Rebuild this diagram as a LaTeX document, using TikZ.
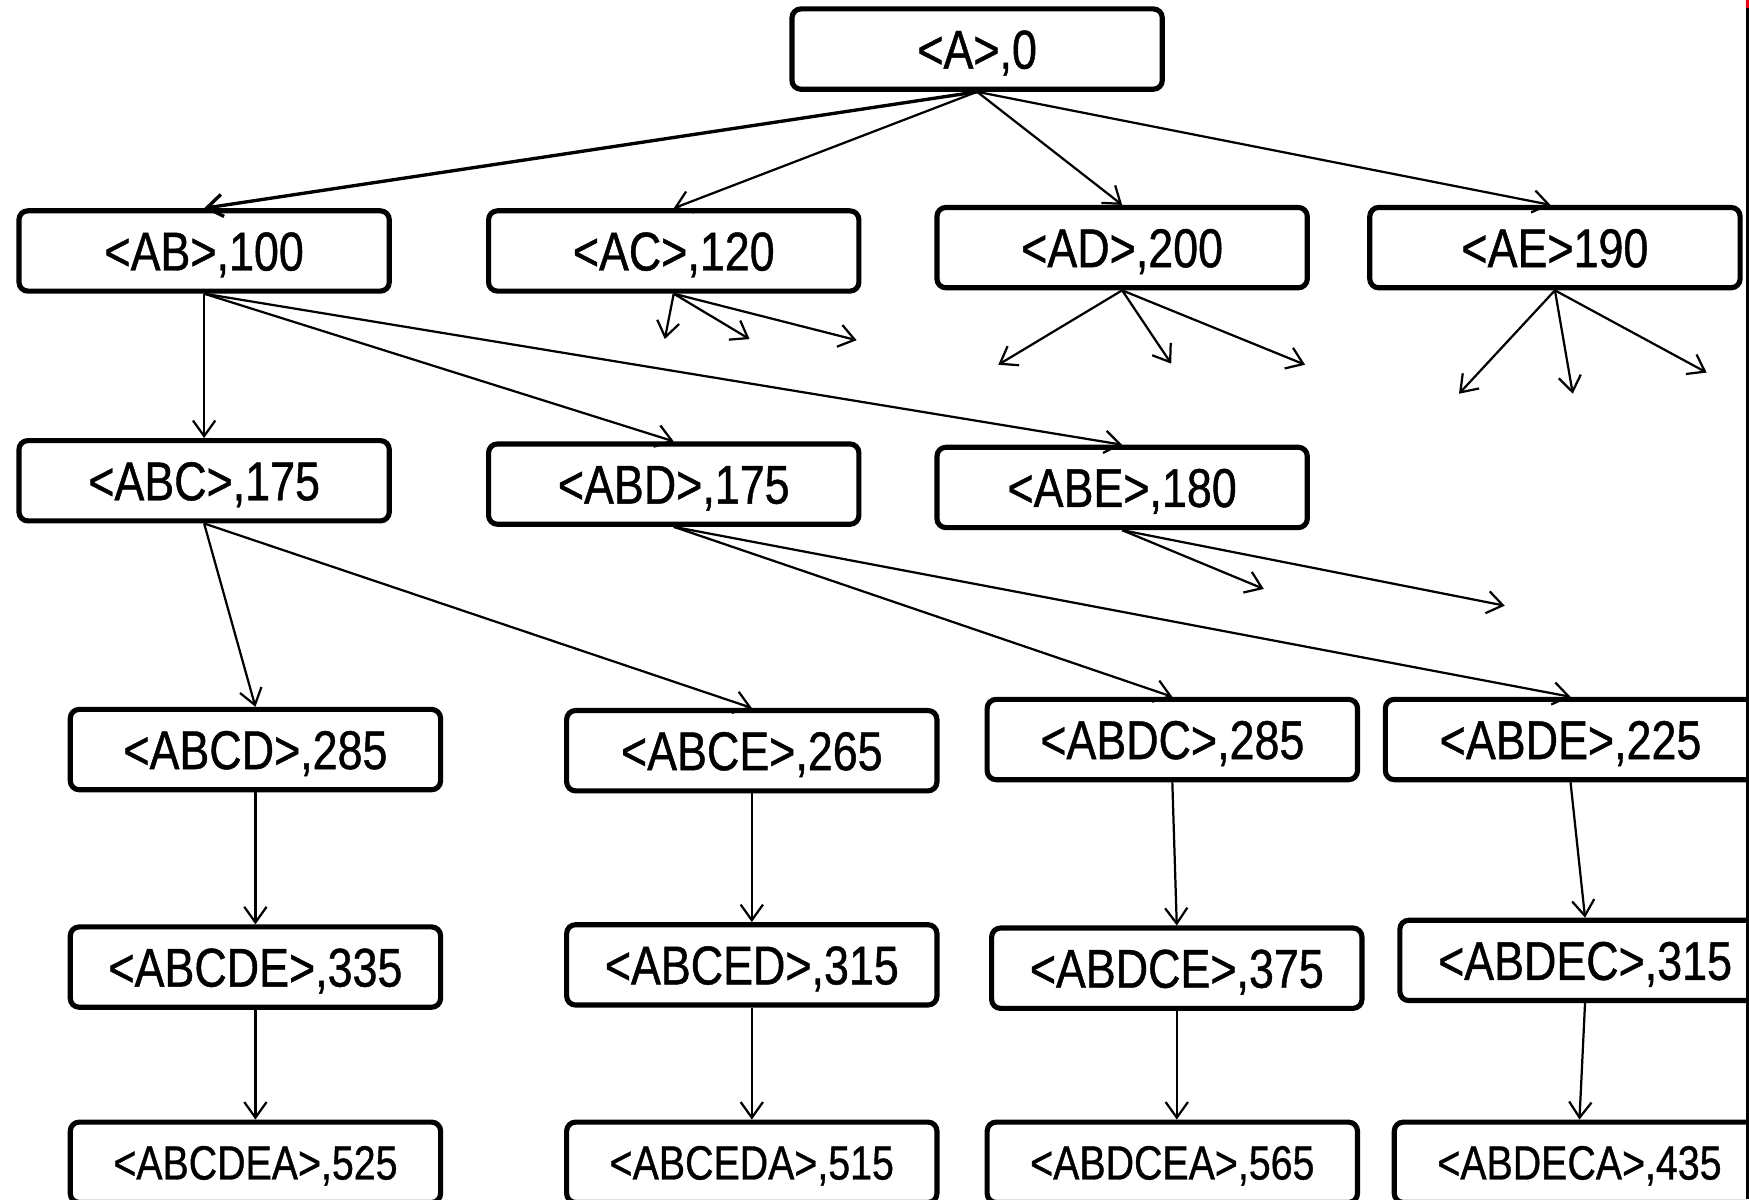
\documentclass[tikz,border=0pt]{standalone}
\usepackage{fontspec}
\setmainfont{Liberation Sans}[FakeStretch=0.82,FakeBold=0.8]
\usetikzlibrary{arrows.meta}
\begin{document}
\begin{tikzpicture}[x=0.5pt,y=-0.5pt,
  box/.style={draw, line width=2.3pt, rounded corners=4pt, minimum width=166pt,
    minimum height=36pt, inner sep=0pt, font=\fontsize{24.5}{24.5}\selectfont,
    text height=17.5pt, text depth=0pt},
  lastbox/.style={box, font=\fontsize{21.5}{21.5}\selectfont, text height=15.4pt},
  edge/.style={line width=1pt, -{Straight Barb[length=7pt,width=10pt]}},
  thickedge/.style={edge, line width=1.5pt}
]
\useasboundingbox (0,0) rectangle (1568,1075);
\begin{scope}
\clip (0,-5) rectangle (1566,1080);
% row 1
\node[box] (A) at (876,44) {<A>,0};
% row 2
\node[box] (AB) at (183,225) {<AB>,100};
\node[box] (AC) at (604,225) {<AC>,120};
\node[box] (AD) at (1006,222) {<AD>,200};
\node[box] (AE) at (1394,222) {<AE>190};
% row 3
\node[box] (ABC) at (183,431) {<ABC>,175};
\node[box] (ABD) at (604,434) {<ABD>,175};
\node[box] (ABE) at (1006,437) {<ABE>,180};
% row 4
\node[box] (ABCD) at (229,672) {<ABCD>,285};
\node[box] (ABCE) at (674,673) {<ABCE>,265};
\node[box] (ABDC) at (1051,663) {<ABDC>,285};
\node[box] (ABDE) at (1408,663) {<ABDE>,225};
% row 5
\node[box] (ABCDE) at (229,867) {<ABCDE>,335};
\node[box] (ABCED) at (674,865) {<ABCED>,315};
\node[box] (ABDCE) at (1055,868) {<ABDCE>,375};
\node[box] (ABDEC) at (1421,861) {<ABDEC>,315};
% row 6
\node[lastbox] (ABCDEA) at (229,1042) {<ABCDEA>,525};
\node[lastbox] (ABCEDA) at (674,1042) {<ABCEDA>,515};
\node[lastbox] (ABDCEA) at (1051,1042) {<ABDCEA>,565};
\node[lastbox] (ABDECA) at (1416,1042) {<ABDECA>,435};

% free ends
\coordinate (ac1) at (596,304);
\coordinate (ac2) at (672,304);
\coordinate (ac3) at (768,305);
\coordinate (ad1) at (895,327);
\coordinate (ad2) at (1050,326);
\coordinate (ad3) at (1170,327);
\coordinate (ae1) at (1308,353);
\coordinate (ae2) at (1410,353);
\coordinate (ae3) at (1530,334);
\coordinate (abe1) at (1133,528);
\coordinate (abe2) at (1349,543);

% edges from A
\draw[thickedge] (A.south) -- (AB.north);
\draw[edge] (A.south) -- (AC.north);
\draw[edge] (A.south) -- (AD.north);
\draw[edge] (A.south) -- ([xshift=-2pt]AE.north);
% edges from AB
\draw[edge] (AB.south) -- (ABC.north);
\draw[edge] (AB.south) -- (ABD.north);
\draw[edge] (AB.south) -- (ABE.north);
% stubs
\draw[edge] (AC.south) -- (ac1);
\draw[edge] (AC.south) -- (ac2);
\draw[edge] (AC.south) -- (ac3);
\draw[edge] (AD.south) -- (ad1);
\draw[edge] (AD.south) -- (ad2);
\draw[edge] (AD.south) -- (ad3);
\draw[edge] (AE.south) -- (ae1);
\draw[edge] (AE.south) -- (ae2);
\draw[edge] (AE.south) -- (ae3);
\draw[edge] (ABE.south) -- (abe1);
\draw[edge] (ABE.south) -- (abe2);
% row 3 to row 4
\draw[edge] (ABC.south) -- (ABCD.north);
\draw[edge] (ABC.south) -- (ABCE.north);
\draw[edge] (ABD.south) -- (ABDC.north);
\draw[edge] (ABD.south) -- (ABDE.north);
% chains
\draw[edge] (ABCD.south) -- (ABCDE.north);
\draw[edge] (ABCDE.south) -- (ABCDEA.north);
\draw[edge] (ABCE.south) -- (ABCED.north);
\draw[edge] (ABCED.south) -- (ABCEDA.north);
\draw[edge] (ABDC.south) -- (ABDCE.north);
\draw[edge] (ABDCE.south) -- ([xshift=2pt]ABDCEA.north);
\draw[edge] (ABDE.south) -- (ABDEC.north);
\draw[edge] (ABDEC.south) -- (ABDECA.north);
\end{scope}
% right border line
\draw[line width=1.4pt] (1566.5,0) -- (1566.5,1075);
\draw[line width=1.4pt, red] (1566.5,0) -- (1566.5,7);
\end{tikzpicture}
\end{document}
